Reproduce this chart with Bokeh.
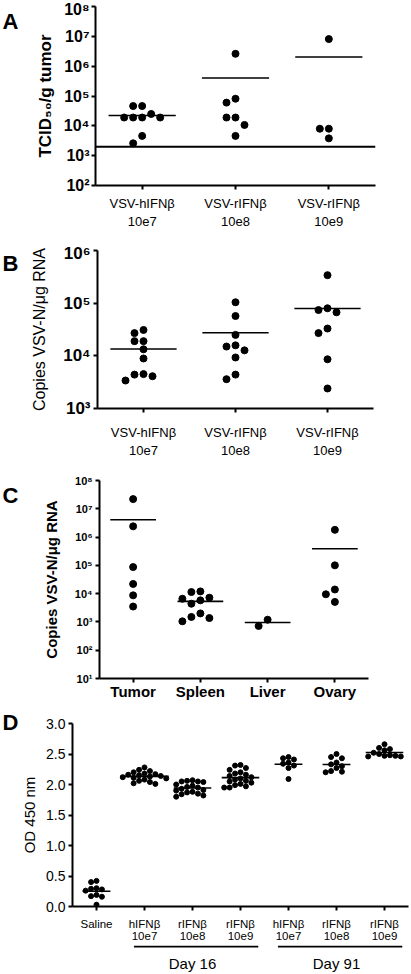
import numpy as np
from bokeh.plotting import figure
from bokeh.layouts import column, row
from bokeh.models import (Range1d, FixedTicker, CustomJSTickFormatter, Label, Span,
                          NumeralTickFormatter)
from bokeh.core.properties import value
from bokeh.embed import file_html
from bokeh.resources import INLINE

FONT = "Liberation Sans"
LW = 18          # width of the panel-letter strip
MW = 392         # width of the main figures

# ---------------- data ----------------
# Panel A: TCID50 / g tumor
a_categories = ["VSV-hIFNβ\n10e7", "VSV-rIFNβ\n10e8", "VSV-rIFNβ\n10e9"]
a_hifn_10e7 = [4.6e4, 4.6e4, 2.5e4, 1.9e4, 1.9e4, 1.9e4, 1.9e4, 4.6e3, 2.6e3]
a_rifn_10e8 = [2.6e6, 8.1e4, 6.0e4, 1.9e4, 1.9e4, 1.07e4, 4.6e3]
a_rifn_10e9 = [8.1e6, 8.0e3, 8.0e3, 3.8e3]
a_detection_limit = 2.0e3
a_ticks = [1e2, 1e3, 1e4, 1e5, 1e6, 1e7, 1e8]

# Panel B: copies VSV-N / ug RNA
b_categories = ["VSV-hIFNβ\n10e7", "VSV-rIFNβ\n10e8", "VSV-rIFNβ\n10e9"]
b_hifn_10e7 = [3.1e4, 2.7e4, 1.9e4, 1.9e4, 1.33e4, 8.9e3, 4.5e3, 4.4e3, 4.1e3, 3.4e3]
b_rifn_10e8 = [1.04e5, 5.7e4, 2.5e4, 1.58e4, 1.5e4, 1.27e4, 9.3e3, 4.4e3, 3.6e3]
b_rifn_10e9 = [3.4e5, 8.0e4, 7.4e4, 6.7e4, 3.3e4, 2.7e4, 8.6e3, 2.4e3]
b_ticks = [1e3, 1e4, 1e5, 1e6]

# Panel C: copies VSV-N / ug RNA by organ
c_categories = ["Tumor", "Spleen", "Liver", "Ovary"]
c_tumor = [2.2e7, 2.4e6, 8.7e4, 2.2e4, 8.7e3, 3.5e3]
c_spleen = [1.2e4, 1.14e4, 7.2e3, 6.6e3, 5.8e3, 4.4e3, 2.0e3, 1.5e3, 1.37e3, 1.05e3]
c_liver = [1.2e3, 7.2e2]
c_ovary = [1.8e6, 1.0e5, 1.4e4, 9.5e3, 5.1e3]
c_ticks = [1e1, 1e2, 1e3, 1e4, 1e5, 1e6, 1e7, 1e8]

# Panel D: OD 450 nm
d_categories = ["Saline", "hIFNβ\n10e7", "rIFNβ\n10e8", "rIFNβ\n10e9",
                "hIFNβ\n10e7", "rIFNβ\n10e8", "rIFNβ\n10e9"]
d_days = ["", "Day 16", "Day 16", "Day 16", "Day 91", "Day 91", "Day 91"]
d_saline = [0.42, 0.40, 0.30, 0.29, 0.28, 0.26, 0.19, 0.17, 0.16, 0.03]
d16_hifn_10e7 = [2.28, 2.24, 2.22, 2.20, 2.18, 2.17, 2.16, 2.15, 2.14,
                 2.13, 2.12, 2.11, 2.10, 2.08, 2.06, 2.04, 2.02, 2.01]
d16_rifn_10e8 = [2.07, 2.06, 2.05, 2.05, 2.04, 2.00, 1.98, 1.96, 1.95,
                 1.93, 1.91, 1.90, 1.88, 1.87, 1.85, 1.84, 1.82, 1.80]
d16_rifn_10e9 = [2.32, 2.31, 2.27, 2.24, 2.20, 2.18, 2.16, 2.14, 2.12, 2.10,
                 2.08, 2.06, 2.05, 2.03, 2.01, 1.99, 1.97, 1.95, 1.95]
d91_hifn_10e7 = [2.45, 2.43, 2.41, 2.36, 2.34, 2.31, 2.27, 2.09]
d91_rifn_10e8 = [2.50, 2.45, 2.43, 2.36, 2.33, 2.30, 2.27, 2.22, 2.21, 2.20]
d91_rifn_10e9 = [2.66, 2.60, 2.58, 2.56, 2.52, 2.50, 2.48, 2.47, 2.47, 2.46, 2.46]
d_ticks = [0.0, 0.5, 1.0, 1.5, 2.0, 2.5, 3.0]


# ---------------- helpers ----------------
def swarm(vals, ypix, px_per_x, diam, step):
    vals = list(vals)
    order = sorted(range(len(vals)), key=lambda i: -vals[i])
    cands = [0] + [s * j for j in range(1, 30) for s in (-1, 1)]
    placed, offs = [], [0.0] * len(vals)
    for i in order:
        y = ypix(vals[i])
        for c in cands:
            x = c * step
            if all((x - px) ** 2 + (y - py) ** 2 >= diam ** 2 for px, py in placed):
                break
        placed.append((x, y))
        offs[i] = x / px_per_x
    return offs


SUP_JS = """
const sup = ["\u2070","\u00b9","\u00b2","\u00b3","\u2074","\u2075","\u2076","\u2077","\u2078","\u2079"];
const e = Math.round(Math.log10(tick));
return "10" + String(e).split("").map(d => sup[+d]).join("");
"""


def make_fig(height, ncat, yr, log, L, R, T, B):
    kw = dict(width=MW, height=height, x_range=Range1d(-0.5, ncat - 0.5), y_range=yr,
              output_backend="svg", toolbar_location=None,
              min_border_left=L, min_border_right=R, min_border_top=T, min_border_bottom=B)
    if log:
        kw["y_axis_type"] = "log"
    p = figure(**kw)
    p.grid.visible = False
    p.outline_line_color = None
    p.background_fill_color = "white"
    p.border_fill_color = "white"
    for ax in p.axis:
        ax.axis_line_width = 2
        ax.axis_line_color = "black"
        ax.major_tick_line_width = 2
        ax.major_tick_line_color = "black"
        ax.major_tick_out = 4
        ax.major_tick_in = 0
        ax.minor_tick_line_color = None
        ax.major_label_text_font = FONT
        ax.major_label_text_color = "black"
        ax.axis_label_text_font = FONT
        ax.axis_label_text_color = "black"
        ax.axis_label_text_font_style = "normal"
    return p


def letter_fig(height, text, em_top):
    f = figure(width=LW, height=height, x_range=Range1d(0, LW), y_range=Range1d(0, height),
               output_backend="svg", toolbar_location=None,
               x_axis_location=None, y_axis_location=None,
               min_border_left=0, min_border_right=0, min_border_top=0, min_border_bottom=0)
    f.grid.visible = False
    f.outline_line_color = None
    f.add_layout(Label(x=2, y=height - em_top, text=text, text_font=FONT,
                       text_font_style="bold", text_font_size="22px",
                       text_baseline="top", text_align="left", text_color="black"))
    return f


def set_x_labels(p, cats, size, style, standoff, line_height=1.2):
    p.xaxis.ticker = FixedTicker(ticks=list(range(len(cats))), minor_ticks=[])
    p.xaxis.formatter = CustomJSTickFormatter(args=dict(labels=cats),
                                              code="return labels[Math.round(tick)];")
    p.xaxis.major_label_text_font_size = size
    p.xaxis.major_label_text_font_style = style
    p.xaxis.major_label_standoff = standoff
    p.xaxis.major_label_text_line_height = line_height


def add_groups(p, groups, ypix, px_x, diam, step, size, base_hw):
    for i, vals in enumerate(groups):
        offs = swarm(vals, ypix, px_x, diam, step)
        p.scatter([i + o for o in offs], vals, size=size, color="black", line_color="black")
        mean = float(np.mean(vals))
        hw = max(base_hw, max(abs(o) for o in offs) + (diam / 2) / px_x)
        p.segment(x0=[i - hw], y0=[mean], x1=[i + hw], y1=[mean],
                  line_color="black", line_width=1.6)


# ---------------- Panel A ----------------
L, R, T, B, H = 77, 35, 6, 58, 243
fw, fh = MW - L - R, H - T - B
pA = make_fig(H, 3, Range1d(1e2, 1e8), True, L, R, T, B)
pA.yaxis.ticker = FixedTicker(ticks=a_ticks, minor_ticks=[])
pA.yaxis.formatter = CustomJSTickFormatter(code=SUP_JS)
pA.yaxis.major_label_text_font_size = "16px"
pA.yaxis.major_label_text_font_style = "bold"
pA.yaxis.major_label_standoff = 2
pA.yaxis.axis_label = "TCID₅₀/g tumor"
pA.yaxis.axis_label_text_font_size = "17px"
pA.yaxis.axis_label_text_font_style = "bold"
pA.yaxis.axis_label_standoff = 6
set_x_labels(pA, a_categories, "13px", "normal", 6)
ppd = fh / 6.0
add_groups(pA, [a_hifn_10e7, a_rifn_10e8, a_rifn_10e9],
           lambda v: np.log10(v) * ppd, fw / 3.0, 8, 9, 7, 0.36)
pA.add_layout(Span(location=a_detection_limit, dimension="width",
                   line_color="black", line_width=2))
rowA = row(letter_fig(H, "A", 3), pA, spacing=0)

# ---------------- Panel B ----------------
L, R, T, B, H = 79, 37, 7, 48, 217
fw, fh = MW - L - R, H - T - B
pB = make_fig(H, 3, Range1d(1e3, 1e6), True, L, R, T, B)
pB.yaxis.ticker = FixedTicker(ticks=b_ticks, minor_ticks=[])
pB.yaxis.formatter = CustomJSTickFormatter(code=SUP_JS)
pB.yaxis.major_label_text_font_size = "17px"
pB.yaxis.major_label_text_font_style = "bold"
pB.yaxis.major_label_standoff = 3
pB.yaxis.axis_label = "Copies VSV-N/μg RNA"
pB.yaxis.axis_label_text_font_size = "16px"
pB.yaxis.axis_label_standoff = 12
set_x_labels(pB, b_categories, "13px", "normal", 12)
ppd = fh / 3.0
add_groups(pB, [b_hifn_10e7, b_rifn_10e8, b_rifn_10e9],
           lambda v: np.log10(v) * ppd, fw / 3.0, 8, 9, 7, 0.36)
rowB = row(letter_fig(H, "B", 0), pB, spacing=0)

# ---------------- Panel C ----------------
L, R, T, B, H = 81, 42, 20, 27, 245
fw, fh = MW - L - R, H - T - B
pC = make_fig(H, 4, Range1d(1e1, 1e8), True, L, R, T, B)
pC.yaxis.ticker = FixedTicker(ticks=c_ticks, minor_ticks=[])
pC.yaxis.formatter = CustomJSTickFormatter(code=SUP_JS)
pC.yaxis.major_label_text_font_size = "11px"
pC.yaxis.major_label_text_font_style = "bold"
pC.yaxis.major_label_standoff = 3
pC.yaxis.axis_label = "Copies VSV-N/μg RNA"
pC.yaxis.axis_label_text_font_size = "15px"
pC.yaxis.axis_label_text_font_style = "bold"
pC.yaxis.axis_label_standoff = 12
set_x_labels(pC, c_categories, "15px", "bold", 0)
ppd = fh / 7.0
add_groups(pC, [c_tumor, c_spleen, c_liver, c_ovary],
           lambda v: np.log10(v) * ppd, fw / 4.0, 8, 9, 7, 0.34)
rowC = row(letter_fig(H, "C", 3), pC, spacing=0)

# ---------------- Panel D ----------------
L, R, T, B, H = 50, 2, 18, 36, 240
fw, fh = MW - L - R, H - T - B
pD = make_fig(H, 7, Range1d(0, 3.0), False, L, R, T, B)
pD.yaxis.ticker = FixedTicker(ticks=d_ticks, minor_ticks=[])
pD.yaxis.formatter = NumeralTickFormatter(format="0.0")
pD.yaxis.major_label_text_font_size = "14px"
pD.yaxis.major_label_standoff = 3
pD.yaxis.axis_label = "OD 450 nm"
pD.yaxis.axis_label_text_font_size = "15px"
pD.yaxis.axis_label_standoff = 5
set_x_labels(pD, d_categories, "11.5px", "normal", 7, 1.05)
ppu = fh / 3.0
add_groups(pD, [d_saline, d16_hifn_10e7, d16_rifn_10e8, d16_rifn_10e9,
                d91_hifn_10e7, d91_rifn_10e8, d91_rifn_10e9],
           lambda v: v * ppu, fw / 7.0, 5, 5.5, 5, 0.29)

# strip under panel D with the day groupings
HD = 27
pDay = figure(width=MW, height=HD, x_range=pD.x_range, y_range=Range1d(0, HD),
              output_backend="svg", toolbar_location=None,
              x_axis_location=None, y_axis_location=None,
              min_border_left=L, min_border_right=R, min_border_top=0, min_border_bottom=0)
pDay.grid.visible = False
pDay.outline_line_color = None
days = [d for d in dict.fromkeys(d_days) if d]
day_idx = [[i for i, d in enumerate(d_days) if d == day] for day in days]
pDay.segment(x0=[min(ix) - 0.22 for ix in day_idx], y0=[HD - 1] * len(days),
             x1=[max(ix) + 0.37 for ix in day_idx], y1=[HD - 1] * len(days),
             line_color="black", line_width=2)
pDay.text(x=[float(np.mean(ix)) for ix in day_idx], y=[9] * len(days), text=days,
          text_font=value(FONT), text_font_size=value("15px"),
          text_align="center", text_baseline="middle", text_color="black")
rowD = row(letter_fig(H + HD, "D", 4), column(pD, pDay, spacing=0), spacing=0)

layout = column(rowA, rowB, rowC, rowD, spacing=0)
open("out.html", "w").write(file_html(layout, INLINE))
